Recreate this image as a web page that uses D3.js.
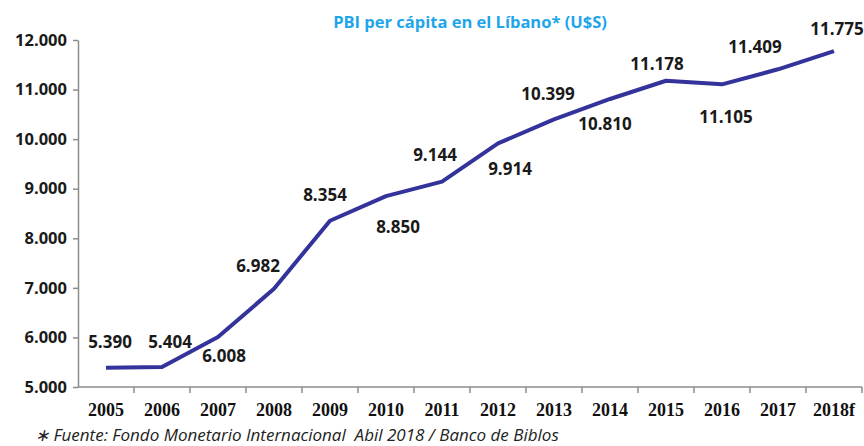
<!DOCTYPE html>
<html>
<head>
<meta charset="utf-8">
<style>
    body { margin: 0; background: #fff; }
    svg { display: block; }
    .y .tick text { font-family: "Open Sans", sans-serif; font-weight: 700; font-size: 16.5px; fill: #1a1a1a; }
    .x .tick text { font-family: "Liberation Serif", "Times New Roman", serif; font-weight: 700; font-size: 18px; fill: #111; }
    .axis .domain, .axis .tick line { stroke: #8c8c8c; stroke-width: 1.5; }
    .val { font-family: "Open Sans", sans-serif; font-weight: 700; font-size: 17px; fill: #1a1a1a; }
</style>
</head>
<body>
<svg width="864" height="446"></svg>
<script src="https://d3js.org/d3.v7.min.js"></script>
<script>
// data
let years = ["2005", "2006", "2007", "2008", "2009", "2010", "2011", "2012", "2013", "2014", "2015", "2016", "2017", "2018f"]
let gdp = [5390, 5404, 6008, 6982, 8354, 8850, 9144, 9914, 10399, 10810, 11178, 11105, 11409, 11775]
let yTicks = [5000, 6000, 7000, 8000, 9000, 10000, 11000, 12000]

// label offsets from the point (layout only)
let labelOffset = [[4, -26], [8, -25], [6, 19], [-16, -23], [-5, -26], [12, 31], [-7, -27],
    [12, 26], [-6, -25], [-5, 25], [-9, -17], [4, 33], [-23, -22], [3, -22]]

let svg = d3.select("svg")
let margin = { top: 40, right: 2, bottom: 59, left: 78 }
let width = 864, height = 446

let fmt = d => d3.format(",")(d).replace(/,/g, ".")

let x = d3.scaleBand()
    .domain(years)
    .range([margin.left, width - margin.right])

let y = d3.scaleLinear()
    .domain([5000, 12000])
    .range([height - margin.bottom, margin.top])

// x axis with ticks between categories
let xAxis = svg.append("g")
    .attr("class", "x axis")
    .attr("transform", `translate(0,${height - margin.bottom})`)
    .call(d3.axisBottom(x).tickSize(0).tickPadding(16))

xAxis.selectAll(".domain").remove()
xAxis.append("line")
    .attr("x1", margin.left).attr("x2", width - margin.right)
    .attr("stroke", "#8c8c8c").attr("stroke-width", 1.5)

xAxis.selectAll(".sep")
    .data(years)
    .join("line")
    .attr("class", "sep")
    .attr("x1", d => x(d) + x.bandwidth())
    .attr("x2", d => x(d) + x.bandwidth())
    .attr("y1", 0).attr("y2", 6)
    .attr("stroke", "#8c8c8c").attr("stroke-width", 1.5)

let yAxis = svg.append("g")
    .attr("class", "y axis")
    .attr("transform", `translate(${margin.left},0)`)
    .call(d3.axisLeft(y).tickValues(yTicks).tickFormat(fmt).tickSize(5).tickSizeOuter(0).tickPadding(6))

// line
let line = d3.line()
    .x((d, i) => x(years[i]) + x.bandwidth() / 2)
    .y(d => y(d))

svg.append("path")
    .datum(gdp)
    .attr("d", line)
    .attr("fill", "none")
    .attr("stroke", "#33339b")
    .attr("stroke-width", 4)
    .attr("stroke-linejoin", "round")

// value labels
svg.append("g")
    .selectAll("text")
    .data(gdp)
    .join("text")
    .attr("class", "val")
    .attr("x", (d, i) => x(years[i]) + x.bandwidth() / 2 + labelOffset[i][0])
    .attr("y", (d, i) => y(d) + labelOffset[i][1])
    .attr("dy", "0.35em")
    .attr("text-anchor", "middle")
    .text(fmt)

// title
svg.append("text")
    .attr("x", 470)
    .attr("y", 22)
    .attr("dy", "0.35em")
    .attr("text-anchor", "middle")
    .style("font-family", "Open Sans, sans-serif")
    .style("font-weight", 700)
    .style("font-size", "16.5px")
    .style("fill", "#1ea5ea")
    .text("PBI per cápita en el Líbano* (U$S)")

// source
svg.append("text")
    .attr("x", 35)
    .attr("y", 435)
    .attr("dy", "0.35em")
    .style("font-family", "Open Sans, sans-serif")
    .style("font-style", "italic")
    .style("font-size", "17px")
    .style("white-space", "pre")
    .style("fill", "#222")
    .text("∗ Fuente: Fondo Monetario Internacional  Abil 2018 / Banco de Biblos")
</script>
</body>
</html>
